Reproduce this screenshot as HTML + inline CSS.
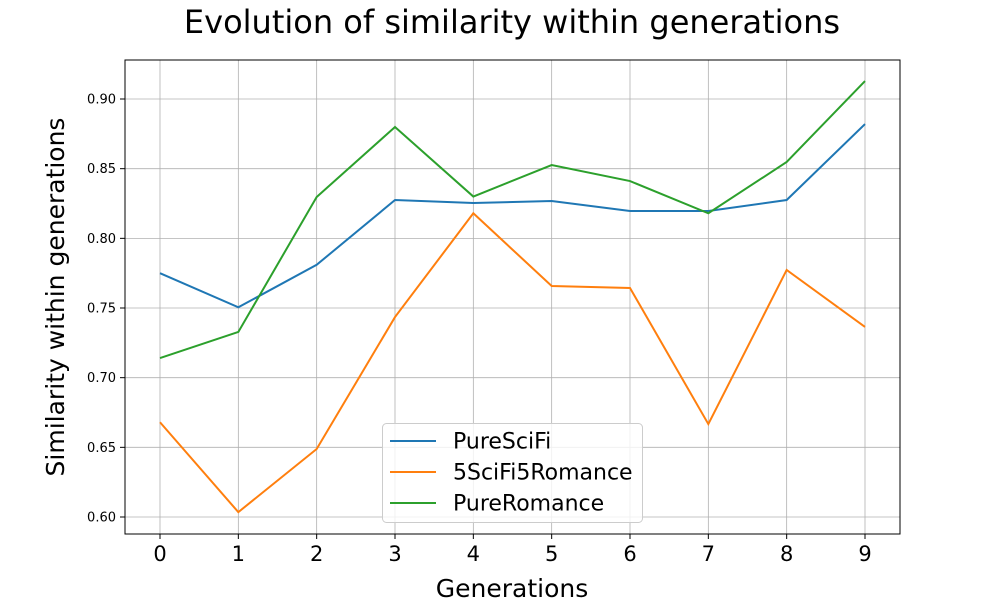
<!DOCTYPE html>
<html><head><meta charset="utf-8"><style>
html,body{margin:0;padding:0;background:#fff;}
svg{display:block;font-family:"DejaVu Sans","Liberation Sans",sans-serif;}
</style></head><body>
<svg id="chart" width="1000" height="600"></svg>
<script>
const generations = [0,1,2,3,4,5,6,7,8,9];
const pureSciFi = [0.775,0.7505,0.781,0.8275,0.8254,0.8268,0.8196,0.8196,0.8275,0.882];
const mixed = [0.668,0.6035,0.6488,0.7435,0.818,0.7658,0.7644,0.6667,0.7773,0.7364];
const pureRomance = [0.7141,0.7328,0.8297,0.8799,0.830,0.8526,0.8411,0.818,0.8548,0.9129];
const yTicks = [0.60,0.65,0.70,0.75,0.80,0.85,0.90];
const seriesNames = ["PureSciFi","5SciFi5Romance","PureRomance"];
const seriesColors = ["#1f77b4","#ff7f0e","#2ca02c"];

const NS="http://www.w3.org/2000/svg";
const svg=document.getElementById('chart');
const L=125,R=900,T=60,B=534;
const yMin=0.5878,yMax=0.928;
const xs=v=>160+(v-0)*(865-160)/9;
const ys=v=>B-(v-yMin)/(yMax-yMin)*(B-T);
function el(tag,attrs,parent){const e=document.createElementNS(NS,tag);for(const k in attrs)e.setAttribute(k,attrs[k]);(parent||svg).appendChild(e);return e;}

const title=el('text',{x:512,y:33,'text-anchor':'middle','font-size':32,fill:'#000'});
title.textContent='Evolution of similarity within generations';



const grid=el('g',{});


generations.forEach(g=>{
  el('line',{x1:xs(g),x2:xs(g),y1:T,y2:B,stroke:'#b0b0b0','stroke-width':0.8},grid);
  el('line',{x1:xs(g),x2:xs(g),y1:B,y2:B+5,stroke:'#000','stroke-width':1});
  const t=el('text',{x:xs(g),y:B+27,'text-anchor':'middle','font-size':21,fill:'#000'});
  t.textContent=g;
  
  
});
yTicks.forEach(v=>{
  el('line',{x1:L,x2:R,y1:ys(v),y2:ys(v),stroke:'#b0b0b0','stroke-width':0.8},grid);
  el('line',{x1:L-5,x2:L,y1:ys(v),y2:ys(v),stroke:'#000','stroke-width':1});
  const t=el('text',{x:L-9,y:ys(v)+4.5,'text-anchor':'end','font-size':13,fill:'#000'});
  t.textContent=v.toFixed(2);
  
  
});

[pureSciFi,mixed,pureRomance].forEach((data,i)=>{
  const p=el('polyline',{points:data.map((v,j)=>xs(generations[j])+','+ys(v)).join(' '),fill:'none',stroke:seriesColors[i],'stroke-width':2});
  
  
});

const frame=el('rect',{x:L,y:T,width:R-L,height:B-T,fill:'none',stroke:'#000','stroke-width':1});



const xl=el('text',{x:512,y:597,'text-anchor':'middle','font-size':25,fill:'#000'});
xl.textContent='Generations';


const yl=el('text',{x:0,y:0,'text-anchor':'middle','font-size':25,fill:'#000',transform:'translate(64,297) rotate(-90)'});
yl.textContent='Similarity within generations';



const lg=el('g',{});


el('rect',{x:382.5,y:423.5,width:260,height:99,rx:4,fill:'#fff','fill-opacity':0.8,stroke:'#ccc','stroke-width':1},lg);
seriesNames.forEach((n,i)=>{
  const y=441+i*31;
  const ln=el('line',{x1:390,x2:436,y1:y,y2:y,stroke:seriesColors[i],'stroke-width':2},lg);
  
  
  const t=el('text',{x:453,y:y+7.5,'font-size':22,fill:'#000'},lg);
  t.textContent=n;
  
  
});
</script>
</body></html>
